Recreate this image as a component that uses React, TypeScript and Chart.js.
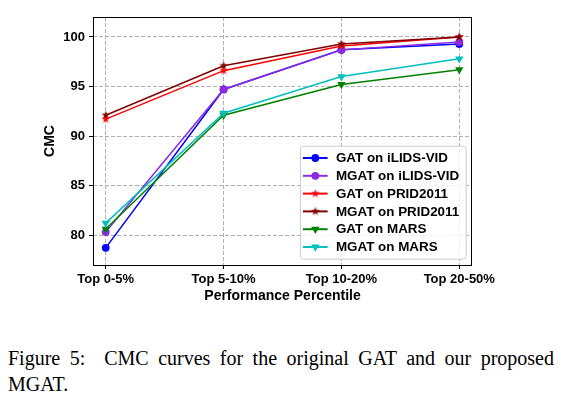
import React, { useEffect, useRef } from "react";
import { Chart, registerables } from "chart.js";

Chart.register(...registerables);

const categories = ["Top 0-5%", "Top 5-10%", "Top 10-20%", "Top 20-50%"];
const gatIlids = [78.7, 94.7, 98.7, 99.3];
const mgatIlids = [80.3, 94.7, 98.7, 99.5];
const gatPrid = [91.7, 96.6, 99.1, 100.0];
const mgatPrid = [92.1, 97.1, 99.3, 100.0];
const gatMars = [80.6, 92.1, 95.2, 96.7];
const mgatMars = [81.2, 92.3, 96.0, 97.8];
const seriesLabels = [
  "GAT on iLIDS-VID",
  "MGAT on iLIDS-VID",
  "GAT on PRID2011",
  "MGAT on PRID2011",
  "GAT on MARS",
  "MGAT on MARS",
];
const yTicks = [80, 85, 90, 95, 100];

const FONT = '"Liberation Sans", Arial, sans-serif';

function makeStar(color: string, R: number) {
  const size = Math.ceil(R * 2 + 2);
  const c = document.createElement("canvas");
  c.width = size;
  c.height = size;
  const g = c.getContext("2d")!;
  const cx = size / 2, cy = size / 2;
  const r = R * 0.381966;
  g.beginPath();
  for (let i = 0; i < 10; i++) {
    const rad = (Math.PI / 5) * i - Math.PI / 2;
    const rr = i % 2 === 0 ? R : r;
    const x = cx + Math.cos(rad) * rr;
    const y = cy + Math.sin(rad) * rr;
    if (i === 0) g.moveTo(x, y); else g.lineTo(x, y);
  }
  g.closePath();
  g.fillStyle = color;
  g.fill();
  return c;
}

function drawMarker(ctx: CanvasRenderingContext2D, ds: any, x: number, y: number) {
  const style = ds.pointStyle;
  const r = ds.pointRadius;
  ctx.save();
  ctx.fillStyle = ds.pointBackgroundColor;
  if (style === "circle") {
    ctx.beginPath();
    ctx.arc(x, y, r, 0, Math.PI * 2);
    ctx.fill();
  } else if (style === "triangle") {
    ctx.beginPath();
    let rad = Math.PI;
    ctx.moveTo(x + Math.sin(rad) * r, y - Math.cos(rad) * r);
    rad += (2 * Math.PI) / 3;
    ctx.lineTo(x + Math.sin(rad) * r, y - Math.cos(rad) * r);
    rad += (2 * Math.PI) / 3;
    ctx.lineTo(x + Math.sin(rad) * r, y - Math.cos(rad) * r);
    ctx.closePath();
    ctx.fill();
  } else if (style instanceof HTMLCanvasElement) {
    ctx.drawImage(style, x - style.width / 2, y - style.height / 2);
  }
  ctx.restore();
}

const framePlugin = {
  id: "frame",
  afterDatasetsDraw(chart: any) {
    const { ctx, chartArea: a } = chart;
    ctx.save();
    ctx.strokeStyle = "#000";
    ctx.lineWidth = 1;
    ctx.strokeRect(a.left + 0.5, a.top + 0.5, a.right - a.left - 1, a.bottom - a.top);
    ctx.restore();
  },
};

const legendPlugin = {
  id: "mplLegend",
  afterDraw(chart: any) {
    const { ctx, chartArea: a } = chart;
    const dsets = chart.data.datasets;
    ctx.save();
    ctx.font = `bold 13.4px ${FONT}`;
    const maxW = Math.max(...dsets.map((d: any) => ctx.measureText(d.label).width));
    const rowH = 17.8;
    const w = 36 + maxW + 6.5;
    const h = 12.3 + rowH * (dsets.length - 1) + 11.7;
    const right = a.right - 6.3;
    const bottom = a.bottom - 6.3;
    const left = right - w;
    const top = bottom - h;
    ctx.beginPath();
    ctx.roundRect(left + 0.5, top + 0.5, w, h, 3);
    ctx.fillStyle = "rgba(255,255,255,0.8)";
    ctx.fill();
    ctx.strokeStyle = "#cccccc";
    ctx.lineWidth = 1;
    ctx.stroke();
    dsets.forEach((d: any, i: number) => {
      const y = top + 12.3 + i * rowH;
      ctx.beginPath();
      ctx.strokeStyle = d.borderColor;
      ctx.lineWidth = 2;
      ctx.moveTo(left + 3, y);
      ctx.lineTo(left + 27.7, y);
      ctx.stroke();
      drawMarker(ctx, d, left + 15.4, y);
      ctx.fillStyle = "#000";
      ctx.textBaseline = "middle";
      ctx.textAlign = "left";
      ctx.fillText(d.label, left + 36, y + 0.5);
    });
    ctx.restore();
  },
};

export default function App() {
  const ref = useRef<HTMLCanvasElement | null>(null);

  useEffect(() => {
    if (!ref.current) return;
    Chart.defaults.font.family = FONT;
    Chart.defaults.color = "#000";
    const starRed = makeStar("#ff0000", 4.6);
    const starMaroon = makeStar("#800000", 4.6);
    const seriesValues = [gatIlids, mgatIlids, gatPrid, mgatPrid, gatMars, mgatMars];
    const colors = ["#0000ff", "#8a2be2", "#ff0000", "#800000", "#008000", "#00bfbf"];
    const styles: any[] = ["circle", "circle", starRed, starMaroon, "triangle", "triangle"];
    const radii = [3.9, 3.9, 4.6, 4.6, 4.8, 4.8];
    const datasets = seriesValues.map((vals, i) => ({
      label: seriesLabels[i],
      data: vals.map((y, k) => ({ x: k, y })),
      borderColor: colors[i],
      backgroundColor: colors[i],
      pointBackgroundColor: colors[i],
      pointBorderColor: colors[i],
      pointBorderWidth: 0,
      pointStyle: styles[i],
      pointRadius: radii[i],
      pointRotation: styles[i] === "triangle" ? 180 : 0,
      borderWidth: 1.5,
      tension: 0,
      fill: false,
      order: seriesValues.length - i,
    }));

    const chart = new Chart(ref.current, {
      type: "line",
      data: { datasets },
      plugins: [framePlugin, legendPlugin],
      options: {
        animation: false,
        responsive: false,
        devicePixelRatio: 1,
        layout: { padding: { left: 0, top: 9, right: 82, bottom: 0 } },
        plugins: { legend: { display: false }, tooltip: { enabled: false } },
        scales: {
          x: {
            type: "linear",
            min: -0.108,
            max: 3.108,
            afterFit: (s: any) => {
              s.height = 45;
              s.paddingLeft = 0;
              s.paddingRight = 0;
            },
            ticks: {
              stepSize: 1,
              includeBounds: false,
              autoSkip: false,
              maxRotation: 0,
              padding: 3,
              font: { size: 13, weight: "bold" },
              callback: (v: any) => categories[v] ?? "",
            },
            grid: {
              color: "#b0b0b0",
              lineWidth: 1,
              tickLength: 4,
              tickColor: "#000",
              tickWidth: 1,
              tickBorderDash: [],
            },
            border: { display: false, dash: [4, 2] },
            title: {
              display: true,
              text: "Performance Percentile",
              font: { size: 14, weight: "bold" },
              padding: { top: 0, bottom: 5 },
            },
          },
          y: {
            type: "linear",
            min: 76.97,
            max: 102.02,
            afterFit: (s: any) => {
              s.width = 85;
              s.paddingTop = 0;
              s.paddingBottom = 0;
            },
            afterBuildTicks: (s: any) => {
              s.ticks = yTicks.map((v) => ({ value: v }));
            },
            ticks: {
              padding: 4,
              font: { size: 13, weight: "bold" },
            },
            grid: {
              color: "#b0b0b0",
              lineWidth: 1,
              tickLength: 4,
              tickColor: "#000",
              tickWidth: 1,
              tickBorderDash: [],
            },
            border: { display: false, dash: [4, 2] },
            title: {
              display: true,
              text: "CMC",
              font: { size: 14, weight: "bold" },
              padding: { top: 34, bottom: 0 },
            },
          },
        },
      } as any,
    });
    return () => chart.destroy();
  }, []);

  return (
    <div style={{ width: 546 }}>
      <div style={{ width: 546, height: 302 }}>
        <canvas ref={ref} width={546} height={302} style={{ display: "block" }} />
      </div>
      <p
        style={{
          margin: "35px 0 0 0",
          fontFamily: '"Liberation Serif", "Times New Roman", serif',
          fontSize: 20,
          lineHeight: "26px",
          textAlign: "justify",
          color: "#000",
        }}
      >
        Figure 5:{"\u00a0"} CMC curves for the original GAT and our proposed MGAT.
      </p>
    </div>
  );
}
